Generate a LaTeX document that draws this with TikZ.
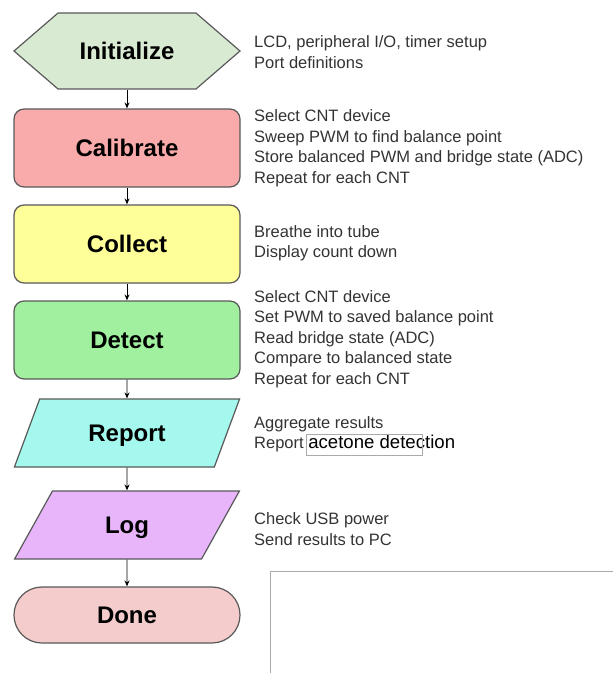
\documentclass[tikz,border=0pt]{standalone}
\usepackage{fontspec}
\setmainfont{Liberation Sans}
\usetikzlibrary{arrows.meta,shapes.geometric,shapes.symbols}
\definecolor{initfill}{HTML}{D9EAD3}
\definecolor{calfill}{HTML}{F9AAAA}
\definecolor{colfill}{HTML}{FFFF99}
\definecolor{detfill}{HTML}{A0F0A0}
\definecolor{repfill}{HTML}{A4F8EE}
\definecolor{logfill}{HTML}{E8B4FA}
\definecolor{donefill}{HTML}{F4CCCC}
\definecolor{edge}{HTML}{595959}
\definecolor{notetext}{HTML}{333333}
\definecolor{boxline}{HTML}{AAAAAA}

\begin{document}
\begin{tikzpicture}[x=1pt,y=-1pt,
  block/.style={draw=edge, line width=1.2pt, minimum width=226pt, inner sep=0pt,
    text height=17.2pt, text depth=0pt,
    font=\fontsize{24}{28}\selectfont\bfseries, text=black},
  hexa/.style={block, signal, signal to=east and west, signal pointer angle=81.6, minimum height=76pt},
  roundbox/.style={block, rectangle, rounded corners=10pt, minimum height=78pt},
  slanted/.style={block, trapezium, trapezium left angle=57, trapezium right angle=123,
    trapezium stretches=true, minimum height=68pt},
  stadium/.style={block, rectangle, rounded corners=27.9pt, minimum height=56pt},
  note/.style={anchor=west, inner sep=0pt, align=left, text=notetext,
    font=\fontsize{16.5}{20.5}\selectfont},
  flow/.style={-{Stealth[length=6pt,width=5pt]}, line width=0.9pt, black}]
\useasboundingbox (0,0) rectangle (613,673);

% flow chart
\node[hexa, fill=initfill] (init) at (127,51) {Initialize};
\node[roundbox, fill=calfill] (calib) at (127,148) {Calibrate};
\node[roundbox, fill=colfill] (collect) at (127,244) {Collect};
\node[roundbox, fill=detfill] (detect) at (127,340) {Detect};
\node[slanted, fill=repfill] (report) at (127,433) {Report};
\node[slanted, fill=logfill] (log) at (127,525) {Log};
\node[stadium, fill=donefill] (done) at (127,615) {Done};

\foreach \a/\b in {init/calib, calib/collect, collect/detect, detect/report, report/log, log/done}
  \draw[flow] (\a.south) -- (\b.north);

% notes
\node[note] (initnote) at (254,52) {LCD, peripheral I/O, timer setup\\Port definitions};
\node[note] (calnote) at (254,148) {Select CNT device\\Sweep PWM to find balance point\\Store balanced PWM and bridge state (ADC)\\Repeat for each CNT};
\node[note] (colnote) at (254,243) {Breathe into tube\\Display count down};
\node[note] (detnote) at (254,339) {Select CNT device\\Set PWM to saved balance point\\Read bridge state (ADC)\\Compare to balanced state\\Repeat for each CNT};
\node[note] (repnote) at (254,434) {Aggregate results\\Report {\color{black}\fontsize{18.6}{20.5}\selectfont acetone detection}};
\node[note] (lognote) at (254,529) {Check USB power\\Send results to PC};

% stray frames
\draw[boxline, line width=0.7pt] (306,434) rectangle (422,455);
\draw[boxline, line width=0.9pt] (270,673) -- (270,571) -- (613,571);
\end{tikzpicture}
\end{document}
